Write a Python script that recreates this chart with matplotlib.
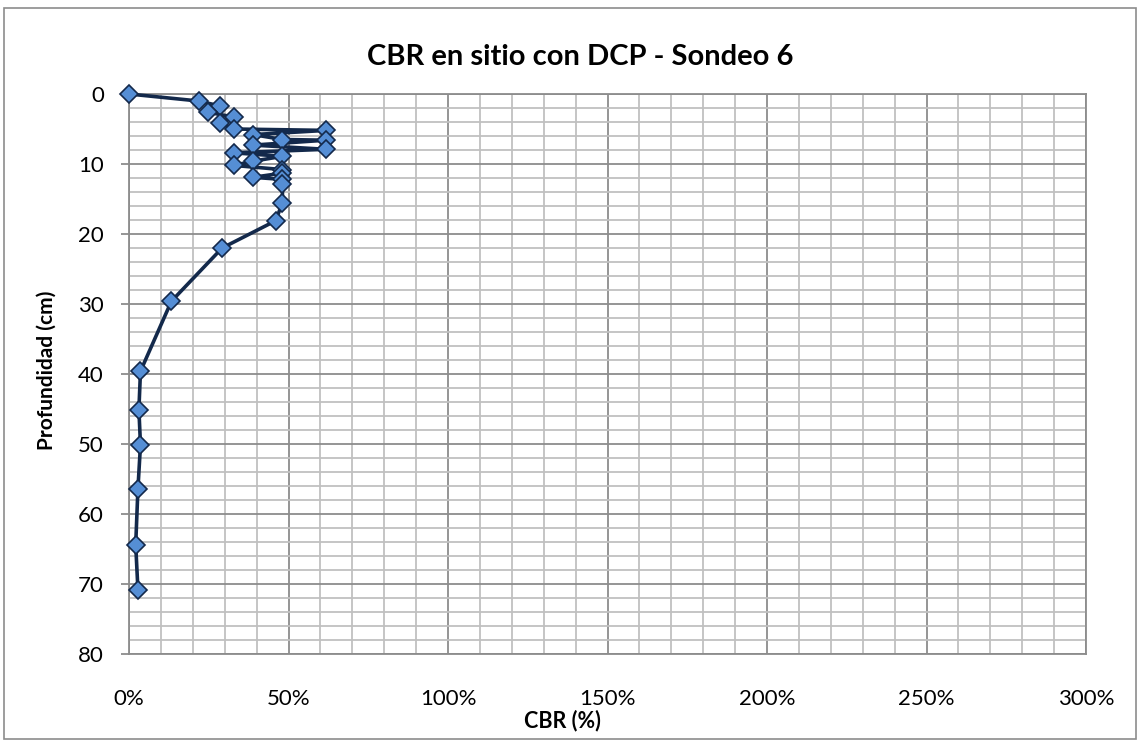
import matplotlib
matplotlib.use("Agg")
import matplotlib.pyplot as plt
from matplotlib.ticker import MultipleLocator, FuncFormatter
from matplotlib.patches import Rectangle

plt.rcParams['font.family'] = ['Lato', 'DejaVu Sans']

# Data
depth_cm = [0, 1.0, 1.7, 2.6, 3.3, 4.1, 5.0, 5.2, 5.8, 6.5, 6.6, 7.3, 7.9,
            8.4, 8.9, 9.6, 10.2, 10.8, 11.3, 11.9, 12.2, 12.8, 15.5, 18.1,
            22.0, 29.6, 39.6, 45.1, 50.1, 56.4, 64.4, 70.8]
cbr_pct = [0.0, 21.8, 28.4, 24.8, 32.8, 28.4, 32.8, 61.7, 38.9, 48.1, 61.7,
           38.9, 61.7, 32.8, 48.1, 38.9, 32.8, 48.1, 48.1, 38.9, 48.1, 48.1,
           48.1, 46.0, 29.2, 13.3, 3.6, 3.1, 3.6, 2.8, 2.1, 2.8]
cbr = [v / 100 for v in cbr_pct]

title = "CBR en sitio con DCP - Sondeo 6"
xlabel = "CBR (%)"
ylabel = "Profundidad (cm)"

W, H = 1138, 740
fig = plt.figure(figsize=(W / 100, H / 100), dpi=100)
ax = fig.add_axes([129 / W, 1 - 654 / H, (1086 - 129) / W, (654 - 94) / H])

ax.plot(cbr, depth_cm, color='#13294B', lw=2.6, marker='D', markersize=9,
        markerfacecolor='#558ED5', markeredgecolor='#13294B', markeredgewidth=1.2,
        zorder=5, clip_on=False)

ax.set_xlim(0, 3.0)
ax.set_ylim(80, 0)
ax.xaxis.set_major_locator(MultipleLocator(0.5))
ax.xaxis.set_minor_locator(MultipleLocator(0.1))
ax.yaxis.set_major_locator(MultipleLocator(10))
ax.yaxis.set_minor_locator(MultipleLocator(2))
ax.xaxis.set_major_formatter(FuncFormatter(lambda v, p: f"{v*100:.0f}%"))

ax.grid(which='minor', color='#C0C0C0', lw=1.3, zorder=0)
ax.grid(which='major', color='#8C8C8C', lw=1.3, zorder=1)
ax.set_axisbelow(True)
for s in ax.spines.values():
    s.set_color('#8C8C8C')
    s.set_linewidth(1.3)

ax.tick_params(axis='y', which='major', length=6, width=1.3, color='#8C8C8C',
               pad=12, labelsize=16)
ax.tick_params(axis='y', which='minor', length=0)
ax.tick_params(axis='x', which='both', length=0, pad=25, labelsize=16)

fig.text(580 / W, 1 - 57 / H, title, ha='center', va='center',
         fontsize=21, fontweight='bold')
fig.text(562 / W, 1 - 721 / H, xlabel, ha='center', va='center',
         fontsize=15.5, fontweight='bold')
fig.text(47 / W, 1 - 370 / H, ylabel, ha='center', va='center',
         rotation=90, fontsize=15, fontweight='bold')

fig.patches.append(Rectangle((4 / W, 1 / H), 1132 / W, (H - 9) / H,
                             transform=fig.transFigure, fill=False,
                             edgecolor='#8C8C8C', lw=1.2))

fig.savefig('out.png', dpi=100)
